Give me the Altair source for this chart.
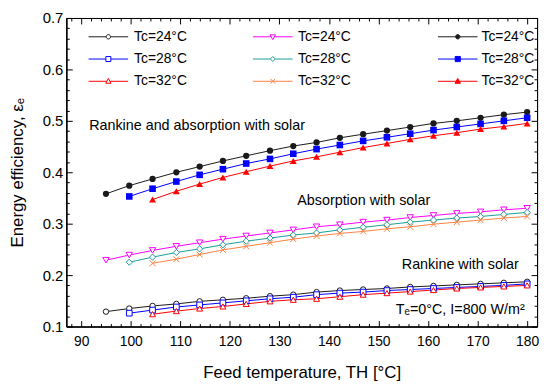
import altair as alt
import pandas as pd

FONT = "Liberation Sans"

# ---------------- data ----------------
T_H = [95.0, 99.7, 104.4, 109.2, 113.9, 118.6, 123.3, 128.1, 132.8, 137.5,
       142.2, 146.9, 151.7, 156.4, 161.1, 165.8, 170.6, 175.3, 180.0]

labels = ["Tc=24°C", "Tc=28°C", "Tc=32°C"]

# Rankine with solar (open markers)
rankine_24 = [0.129, 0.135, 0.140, 0.144, 0.149, 0.152, 0.155, 0.159, 0.162, 0.167,
              0.170, 0.172, 0.174, 0.177, 0.179, 0.181, 0.183, 0.185, 0.187]
rankine_28 = [0.126, 0.132, 0.138, 0.142, 0.146, 0.150, 0.154, 0.157, 0.162,
              0.165, 0.167, 0.170, 0.172, 0.174, 0.176, 0.178, 0.180, 0.183]
rankine_32 = [0.124, 0.130, 0.135, 0.139, 0.144, 0.149, 0.152, 0.154,
              0.158, 0.162, 0.165, 0.168, 0.171, 0.174, 0.176, 0.178, 0.180]

# Absorption with solar
absorp_24 = [0.229, 0.239, 0.248, 0.256, 0.263, 0.270, 0.276, 0.282, 0.288, 0.294,
             0.298, 0.303, 0.307, 0.312, 0.316, 0.320, 0.323, 0.327, 0.330]
absorp_28 = [0.225, 0.235, 0.244, 0.251, 0.259, 0.266, 0.272, 0.278, 0.282,
             0.288, 0.293, 0.298, 0.303, 0.307, 0.311, 0.314, 0.318, 0.322]
absorp_32 = [0.223, 0.231, 0.240, 0.249, 0.256, 0.263, 0.270, 0.276,
             0.281, 0.285, 0.290, 0.294, 0.299, 0.303, 0.307, 0.311, 0.314]

# Rankine and absorption with solar (filled markers)
combo_24 = [0.358, 0.374, 0.387, 0.400, 0.411, 0.422, 0.432, 0.442, 0.451, 0.458,
            0.467, 0.474, 0.481, 0.488, 0.495, 0.500, 0.506, 0.512, 0.517]
combo_28 = [0.353, 0.368, 0.382, 0.395, 0.406, 0.417, 0.426, 0.436, 0.445,
            0.453, 0.461, 0.468, 0.475, 0.482, 0.488, 0.494, 0.500, 0.506]
combo_32 = [0.347, 0.363, 0.377, 0.390, 0.401, 0.412, 0.422, 0.430,
            0.439, 0.448, 0.456, 0.464, 0.471, 0.477, 0.484, 0.489, 0.495]

ann_text = ["Rankine and absorption with solar", "Absorption with solar",
            "Rankine with solar", "Tₑ=0°C, I=800 W/m²"]
ann_x = [91.6, 133.6, 154.7, 153.5]
ann_y = [0.489, 0.344, 0.219, 0.133]

x_major = [90, 100, 110, 120, 130, 140, 150, 160, 170, 180]
y_major = [0.1, 0.2, 0.3, 0.4, 0.5, 0.6, 0.7]
x_minor = [v for v in range(88, 181, 2) if v % 10 != 0]
y_minor = [round(0.12 + 0.02 * i, 2) for i in range(29) if (12 + 2 * i) % 10 != 0]

# ---------------- tables ----------------
rows = []
for g, series in [("R", [rankine_24, rankine_28, rankine_32]),
                  ("A", [absorp_24, absorp_28, absorp_32]),
                  ("S", [combo_24, combo_28, combo_32])]:
    for lab, vals in zip(labels, series):
        xs = T_H[len(T_H) - len(vals):]
        for x, v in zip(xs, vals):
            rows.append({"group": g, "label": lab, "T": x, "eff": v})
df = pd.DataFrame(rows)
ann = pd.DataFrame({"text": ann_text, "T": ann_x, "eff": ann_y})

x_scale = alt.Scale(domain=[87, 182], nice=False, zero=False)
y_scale = alt.Scale(domain=[0.1, 0.7], nice=False, zero=False)

BLACK, BLUE, RED = "#1a1a1a", "#0000ff", "#ff0000"
MAGENTA, TEAL, ORANGE = "#ff00ff", "#199c98", "#ff8040"
XPATH = "M-1,-1L1,1M-1,1L1,-1"


def ax(**kw):
    base = dict(grid=False, domainColor="black", tickColor="black", domainWidth=1,
                tickWidth=1, labelFont=FONT, titleFont=FONT, labelColor="black",
                titleColor="black", labelFlush=False, titleFontWeight="normal")
    base.update(kw)
    return alt.Axis(**base)


x_axes = [
    ax(orient="bottom", values=x_major, tickSize={"expr": "-6"}, labelPadding=14,
       labelFontSize=14, format="d", title="Feed temperature, TH [°C]",
       titleFontSize=17, titlePadding=17),
    ax(orient="top", values=x_major, tickSize={"expr": "-6"}, labels=False, title=None),
    ax(orient="bottom", values=x_minor, tickSize={"expr": "-3"}, labels=False, title=None),
    ax(orient="top", values=x_minor, tickSize={"expr": "-3"}, labels=False, title=None),
]
y_axes = [
    ax(orient="left", values=y_major, tickSize={"expr": "-6"}, labelPadding=9.5,
       labelFontSize=15, format=".1f", title="Energy efficiency, εₑ",
       titleFontSize=17, titlePadding=16),
    ax(orient="right", values=y_major, tickSize={"expr": "-6"}, labels=False, title=None),
    ax(orient="left", values=y_minor, tickSize={"expr": "-3"}, labels=False, title=None),
    ax(orient="right", values=y_minor, tickSize={"expr": "-3"}, labels=False, title=None),
]

layers = []
for xa, ya in zip(x_axes, y_axes):
    layers.append(alt.Chart(df).mark_point(opacity=0).encode(
        x=alt.X("T:Q", scale=x_scale, axis=xa),
        y=alt.Y("eff:Q", scale=y_scale, axis=ya)))

groups = [
    ("R", [BLACK, BLUE, RED], ["circle", "square", "triangle-up"], [30, 36, 42], False),
    ("A", [MAGENTA, TEAL, ORANGE], ["triangle-down", "diamond", XPATH], [42, 36, 36], False),
    ("S", [BLACK, BLUE, RED], ["circle", "square", "triangle-up"], [40, 49, 48], True),
]

for g, colors, shapes, sizes, filled in groups:
    base = alt.Chart(df).transform_filter(alt.datum.group == g)
    xenc = alt.X("T:Q", scale=x_scale, axis=None)
    yenc = alt.Y("eff:Q", scale=y_scale, axis=None)
    cenc = alt.Color("label:N", scale=alt.Scale(domain=labels, range=colors), legend=None)
    layers.append(base.mark_line(strokeWidth=1).encode(x=xenc, y=yenc, color=cenc))
    if filled:
        pm = base.mark_point(filled=True, opacity=1)
    else:
        pm = base.mark_point(fill="white", strokeWidth=1, opacity=1)
    layers.append(pm.encode(
        x=xenc, y=yenc, color=cenc,
        shape=alt.Shape("label:N", scale=alt.Scale(domain=labels, range=shapes), legend=None),
        size=alt.Size("label:O", scale=alt.Scale(domain=labels, range=sizes), legend=None)))


# legend symbols: a line segment with the marker in the middle
def lp(marker, gap):
    return f"M-5,0H-{gap}M{gap},0H5" + marker


leg_paths = {
    "R": [lp("M0.55,0A0.55,0.55,0,1,1,-0.55,0A0.55,0.55,0,1,1,0.55,0Z", 0.55),
          lp("M-0.63,-0.63H0.63V0.63H-0.63Z", 0.63),
          lp("M0,-0.72L0.66,0.5L-0.66,0.5Z", 0.39)],
    "A": [lp("M0,0.72L0.68,-0.5L-0.68,-0.5Z", 0.4),
          lp("M0,-0.62L0.62,0L0,0.62L-0.62,0Z", 0.62),
          "M-5,0H5M-0.6,-0.6L0.6,0.6M-0.6,0.6L0.6,-0.6"],
    "S": [lp("M0.55,0A0.55,0.55,0,1,1,-0.55,0A0.55,0.55,0,1,1,0.55,0Z", 0.55),
          lp("M-0.65,-0.65H0.65V0.65H-0.65Z", 0.65),
          lp("M0,-0.72L0.68,0.5L-0.68,0.5Z", 0.4)],
}
leg_x = {"R": 35.5, "A": 201.8, "S": 388.8}
leg_off = {"R": 19, "A": 18.5, "S": 17}

for g, colors, shapes, sizes, filled in groups:
    legend = alt.Legend(title=None, orient="none", legendX=leg_x[g], legendY=12,
                        direction="vertical", symbolSize=64, symbolStrokeWidth=1,
                        labelFont=FONT, labelFontSize=14, labelColor="black",
                        labelOffset=leg_off[g], rowPadding=8.5, padding=0,
                        symbolOpacity=1)
    lb = alt.Chart(df).transform_filter("false").mark_point(filled=False)
    enc = dict(
        color=alt.Color("label:N", scale=alt.Scale(domain=labels, range=colors), legend=legend),
        shape=alt.Shape("label:N", scale=alt.Scale(domain=labels, range=leg_paths[g]), legend=legend))
    if filled:
        enc["fill"] = alt.Fill("label:N", scale=alt.Scale(domain=labels, range=colors), legend=legend)
    layers.append(lb.encode(**enc))

layers.append(alt.Chart(ann).mark_text(align="left", baseline="middle", font=FONT,
                                       fontSize=14.5, color="black").encode(
    x=alt.X("T:Q", scale=x_scale, axis=None),
    y=alt.Y("eff:Q", scale=y_scale, axis=None),
    text="text:N"))

chart = alt.layer(*layers).resolve_scale(
    color="independent", shape="independent", size="independent", fill="independent"
).resolve_axis(
    x="independent", y="independent"
).properties(
    width=476, height=312,
    padding={"left": 59, "top": 8, "right": 5, "bottom": 56},
    autosize=alt.AutoSizeParams(type="none"),
).configure_view(stroke="black", strokeWidth=1)

chart.save("out.html", embed_options={"renderer": "svg", "actions": False})
